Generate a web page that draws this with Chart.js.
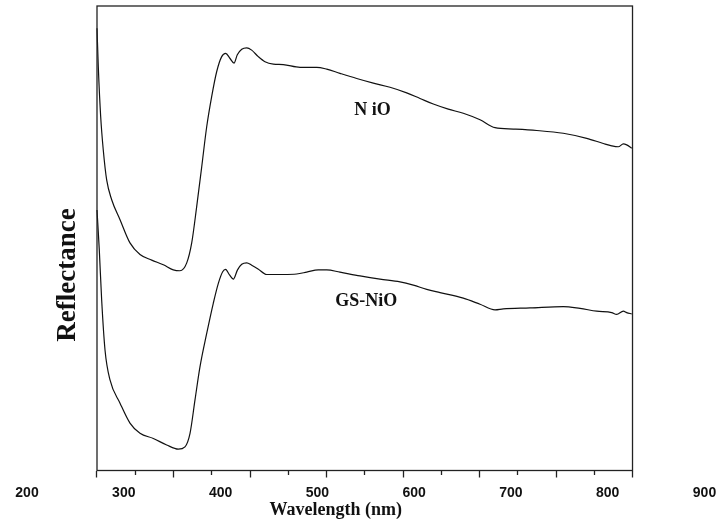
<!DOCTYPE html>
<html>
<head>
<meta charset="utf-8">
<script src="https://cdn.jsdelivr.net/npm/chart.js@4"></script>
<style>
  html, body { margin: 0; padding: 0; background: #fff; }
</style>
</head>
<body>
<canvas id="reflChart" width="716" height="522"></canvas>
<script>
// NiO curve (upper)
const nioWavelength = [200, 201.7, 204.8, 208.2, 212.7, 219.2, 230.1, 243.1, 256.2, 271.5, 286.7, 299.7, 308.5, 317.3, 323.8, 330.3, 336.9, 343.4, 349.9, 356.5, 363, 368.2, 373.9, 379.1, 383.4, 389.2, 395.7, 402.2, 410.8, 419.6, 430.5, 443.5, 465.4, 487.2, 500.3, 517.6, 539.5, 561.2, 583, 604.8, 622.2, 639.6, 659.2, 678.8, 700.7, 720.3, 744.2, 774.8, 809.5, 840.1, 861.8, 872.8, 881.4, 888, 892.4, 899];
const nioReflectance = [95.2, 86.9, 76.2, 69.0, 62.5, 58.3, 54.0, 49.0, 46.5, 45.3, 44.3, 43.2, 43.0, 44.7, 49.0, 56.8, 65.4, 74.0, 80.5, 85.9, 89.1, 89.8, 88.7, 87.7, 89.5, 90.7, 91.0, 90.5, 89.1, 88.0, 87.5, 87.4, 86.8, 86.8, 86.4, 85.5, 84.4, 83.4, 82.5, 81.3, 80.1, 78.9, 77.8, 76.9, 75.5, 73.8, 73.5, 73.2, 72.6, 71.5, 70.4, 69.9, 69.7, 70.3, 70.1, 69.4];

// GS-NiO curve (lower)
const gsWavelength = [200, 203, 206.1, 210.5, 217, 230.1, 243.1, 256.2, 273.6, 291.1, 306.3, 315, 321.6, 328.1, 334.6, 343.4, 352, 358.6, 364.3, 368, 373.2, 378.2, 383.7, 389.2, 395.7, 402.2, 410.5, 421.8, 443.5, 461, 474.1, 489.3, 500.3, 517.6, 543.8, 569.9, 596.1, 613.5, 631, 648.4, 678.8, 700.7, 720.3, 731.1, 766, 809.5, 831.4, 853.2, 872.8, 879.3, 888, 892.4, 899];
const gsReflectance = [56.1, 47.5, 36.7, 25.9, 19.5, 14.5, 10.2, 8.0, 6.9, 5.5, 4.6, 5.1, 8.0, 15.2, 22.3, 29.5, 36.0, 40.3, 42.8, 43.3, 42.1, 41.2, 43.2, 44.4, 44.7, 44.2, 43.4, 42.2, 42.2, 42.3, 42.7, 43.2, 43.2, 42.7, 41.9, 41.2, 40.6, 39.9, 39.0, 38.3, 37.1, 35.8, 34.6, 34.8, 35.0, 35.3, 34.9, 34.3, 34.0, 33.6, 34.3, 34.0, 33.7];

const seriesLabels = ['N iO', 'GS-NiO'];
const xTickValues = [200, 250, 300, 350, 400, 450, 500, 550, 600, 650, 700, 750, 800, 850, 900];
const xTickLabels = ['200', '300', '400', '500', '600', '700', '800', '900'];

const toPoints = (xs, ys) => xs.map((v, i) => ({ x: v, y: ys[i] }));

// frame, curve labels and axis titles
const framePlugin = {
  id: 'frame',
  afterDraw(chart) {
    const { ctx, chartArea, scales } = chart;
    const x = scales.x;
    const y = scales.y;
    const left = x.getPixelForValue(200);
    const right = x.getPixelForValue(900);
    ctx.save();
    ctx.strokeStyle = '#222';
    ctx.lineWidth = 1.3;
    ctx.strokeRect(left, chartArea.top, right - left, chartArea.bottom - chartArea.top);

    ctx.fillStyle = '#111';
    ctx.textAlign = 'center';
    ctx.textBaseline = 'middle';
    ctx.font = 'bold 18px "Liberation Serif"';
    ctx.fillText(seriesLabels[0], x.getPixelForValue(560), y.getPixelForValue(77.6));
    ctx.fillText(seriesLabels[1], x.getPixelForValue(552), y.getPixelForValue(36.5));
    ctx.fillText('Wavelength (nm)', x.getPixelForValue(512), chart.height - 12);

    ctx.translate(68, 275);
    ctx.rotate(-Math.PI / 2);
    ctx.font = 'bold 27px "Liberation Serif"';
    ctx.fillText('Reflectance', 0, 0);
    ctx.restore();
  }
};

const ctxRefl = document.getElementById('reflChart').getContext('2d');

const reflChart = new Chart(ctxRefl, {
  type: 'line',
  data: {
    datasets: [{
      label: seriesLabels[0],
      data: toPoints(nioWavelength, nioReflectance),
      borderColor: '#111',
      borderWidth: 1.2,
      pointRadius: 0,
      cubicInterpolationMode: 'monotone',
      fill: false,
    }, {
      label: seriesLabels[1],
      data: toPoints(gsWavelength, gsReflectance),
      borderColor: '#111',
      borderWidth: 1.2,
      pointRadius: 0,
      cubicInterpolationMode: 'monotone',
      fill: false,
    }]
  },
  options: {
    responsive: false,
    animation: false,
    layout: {
      padding: { left: 27, right: 11.5, top: 6, bottom: 14.5 }
    },
    plugins: {
      legend: { display: false },
      tooltip: { enabled: false },
    },
    scales: {
      x: {
        type: 'linear',
        position: 'bottom',
        min: 108.5,
        max: 994.1,
        weight: 0,
        afterBuildTicks: (scale) => {
          scale.ticks = xTickValues.map(v => ({ value: v }));
        },
        afterFit: (scale) => {
          scale.height = 7;
          scale.paddingLeft = 0;
          scale.paddingRight = 0;
        },
        ticks: { display: false },
        border: { display: false },
        grid: {
          display: true,
          drawOnChartArea: false,
          drawTicks: true,
          tickLength: 7,
          tickColor: '#222',
          tickWidth: 1.3,
          // minor ticks are shorter
          tickBorderDash: (c) => (c.tick && c.tick.value % 100 !== 0) ? [4, 20] : [],
        }
      },
      xl: {
        type: 'linear',
        position: 'bottom',
        min: 200,
        max: 900,
        weight: 1,
        afterFit: (scale) => {
          scale.height = 30;
          scale.paddingLeft = 0;
          scale.paddingRight = 0;
        },
        border: { display: false },
        grid: { display: false, drawTicks: false },
        ticks: {
          stepSize: 100,
          autoSkip: false,
          maxRotation: 0,
          padding: 7.5,
          color: '#111',
          font: { family: 'Liberation Sans', weight: 'bold', size: 14 },
          callback: (v, i) => xTickLabels[i],
        }
      },
      y: {
        display: false,
        min: 0,
        max: 100,
      }
    }
  },
  plugins: [framePlugin]
});
</script>
</body>
</html>
